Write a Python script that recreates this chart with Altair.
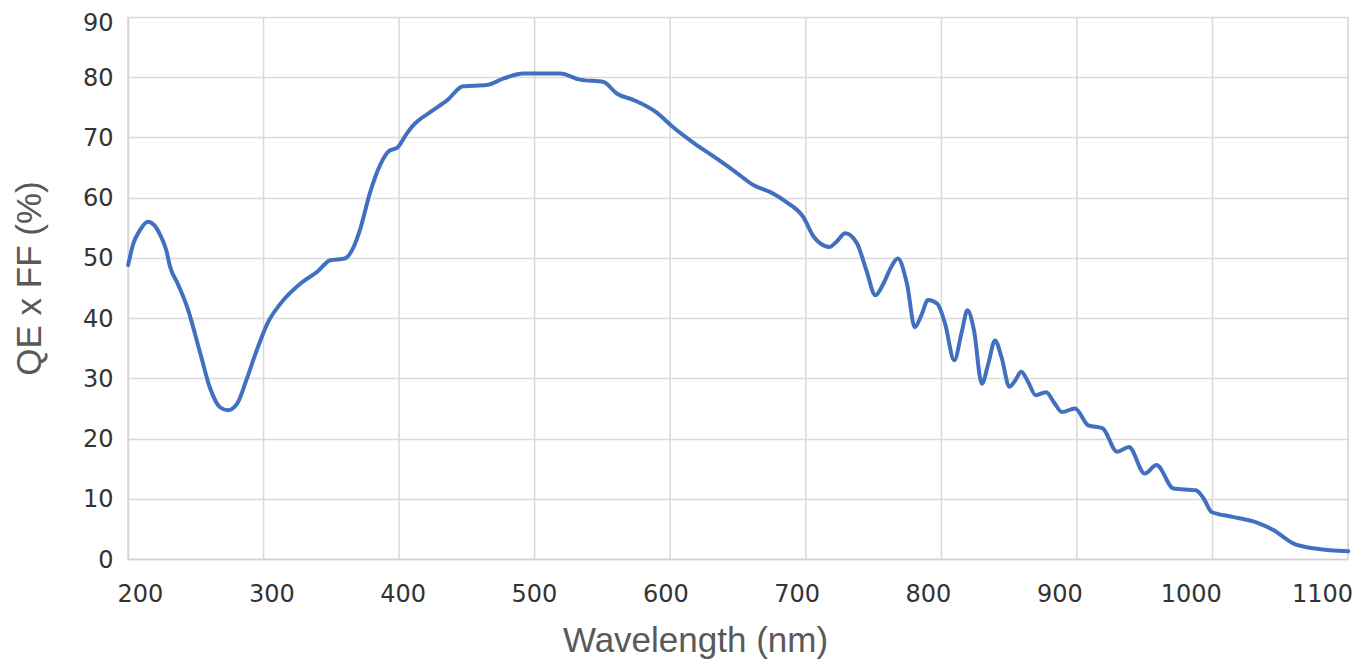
import altair as alt
import pandas as pd

wavelength = [191, 195, 200, 206, 211, 215, 220, 223, 229, 236, 246, 253, 261, 267, 274,
              281, 289, 297, 307, 322, 335, 345, 356, 362, 368, 375, 383, 390, 396,
              403, 408, 421, 434, 446, 464, 477, 492, 520, 535, 553, 563, 576, 593,
              606, 621, 637, 652, 667, 682, 692, 705, 713, 718, 725, 730, 737, 746,
              753, 760, 766, 772, 777, 784, 790, 795, 800, 807, 813, 820, 826, 830,
              835, 841, 846, 851, 856, 862, 866, 871, 876, 882, 890, 896, 902, 912,
              922, 933, 944, 953, 965, 974, 987, 1004, 1010, 1016, 1032, 1050, 1063,
              1078, 1096, 1120]
qe_ff = [48.8, 52.4, 54.6, 56.0, 55.4, 54.0, 51.3, 48.5, 45.6, 41.8, 34.1, 28.6, 25.2, 24.7, 25.8,
         29.7, 34.7, 39.1, 42.4, 45.7, 47.7, 49.6, 49.9, 51.5, 55.0, 60.7, 65.5, 67.8, 68.3,
         70.6, 72.0, 74.2, 76.2, 78.5, 78.7, 79.8, 80.6, 80.6, 79.6, 79.2, 77.3, 76.2, 74.2,
         71.7, 69.2, 66.8, 64.5, 62.1, 60.7, 59.3, 56.8, 53.5, 52.4, 51.8, 52.6, 54.1, 52.4,
         48.0, 43.8, 45.7, 48.5, 49.9, 45.7, 38.5, 40.5, 43.0, 42.4, 39.1, 33.0, 38.0, 41.3,
         38.0, 29.1, 32.5, 36.3, 33.5, 28.6, 29.5, 31.1, 29.5, 27.2, 27.7, 26.0, 24.4, 25.0,
         22.2, 21.7, 17.8, 18.6, 14.2, 15.6, 11.7, 11.4, 10.0, 7.8, 7.0, 6.1, 4.8,
         2.6, 1.7, 1.3]

x_ticks = [200, 300, 400, 500, 600, 700, 800, 900, 1000, 1100]
y_ticks = [0, 10, 20, 30, 40, 50, 60, 70, 80, 90]
x_domain = [190.9, 1119.8]
# vertical gridlines (category-style, not aligned with tick labels)
grid_x = [190.9, 294.1, 397.3, 500.5, 603.7, 707.0, 810.2, 913.4, 1016.6, 1119.8]

df = pd.DataFrame({"wl": wavelength, "qe": qe_ff})
gdf = pd.DataFrame({"gx": grid_x})

xscale = alt.Scale(domain=x_domain, nice=False, zero=False)
yscale = alt.Scale(domain=[0, 90], nice=False)

x_axis = alt.Axis(values=x_ticks, format="d", title="Wavelength (nm)", grid=False,
                  ticks=False, tickSize=0, labelPadding=23,
                  labelFont="DejaVu Sans", labelFontSize=24, labelColor="#333333",
                  domainColor="#D0D0D0", domainWidth=1.5,
                  titleFont="Liberation Sans", titleFontSize=35,
                  titleFontWeight="normal", titleColor="#595959",
                  titleX=567, titleY=92, titleBaseline="alphabetic",
                  titleAlign="center", labelFlush=False)

y_axis = alt.Axis(values=y_ticks, format="d", title="QE x FF (%)", grid=True,
                  gridColor="#D9D9D9", gridWidth=1.5,
                  ticks=False, tickSize=0, labelPadding=15,
                  labelOffset={"condition": {"test": "datum.value == 90", "value": 6},
                               "value": 1},
                  labelFont="DejaVu Sans", labelFontSize=24, labelColor="#333333",
                  domainColor="#D0D0D0", domainWidth=1.5,
                  titleFont="Liberation Sans", titleFontSize=35,
                  titleFontWeight="normal", titleColor="#595959",
                  titleAngle=270, titleX=-88, titleY=261,
                  titleBaseline="alphabetic", titleAlign="center",
                  labelFlush=False)

grid = alt.Chart(gdf).mark_rule(color="#D9D9D9", strokeWidth=1.5).encode(
    x=alt.X("gx:Q", scale=xscale, axis=x_axis)
)

line = alt.Chart(df).mark_line(
    color="#4170BF", strokeWidth=4, interpolate="monotone", strokeCap="round"
).encode(
    x=alt.X("wl:Q", scale=xscale, axis=x_axis),
    y=alt.Y("qe:Q", scale=yscale, axis=y_axis),
)

chart = alt.layer(grid, line).properties(
    width=1220, height=542,
    autosize=alt.AutoSizeParams(type="none"),
    padding={"left": 120, "top": 9, "right": 15, "bottom": 105},
).configure_view(stroke=None).configure(background="white")

chart.save("out.html", embed_options={"renderer": "svg", "actions": False})
